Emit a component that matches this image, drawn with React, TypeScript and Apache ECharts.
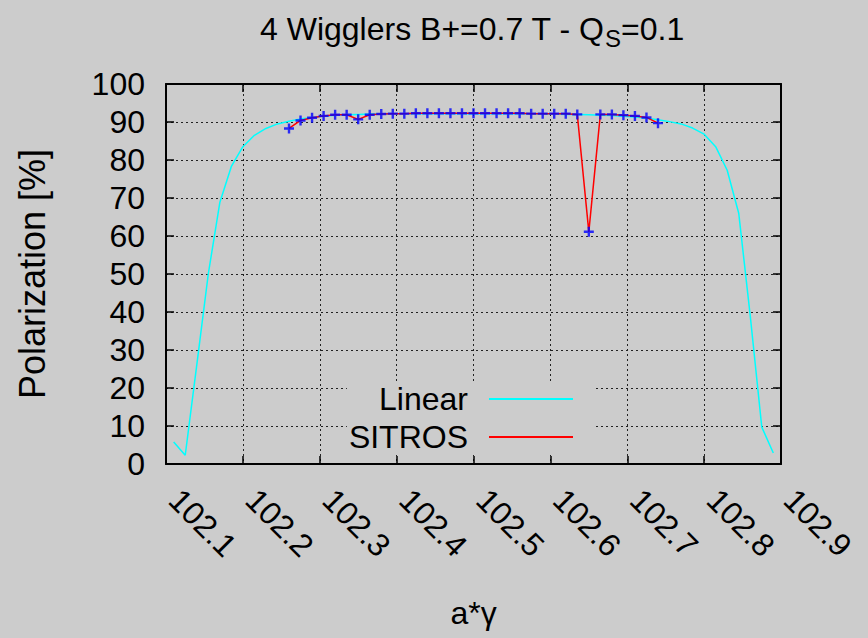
import React, { useEffect, useRef } from "react";
import * as echarts from "echarts";

const FONT = "'Liberation Sans', Arial, Helvetica, sans-serif";
const BG = "#cccccc";

// Linear (analytic) polarization scan
const linearX = [
  102.11, 102.125, 102.14, 102.155, 102.17, 102.185, 102.2, 102.215, 102.23, 102.245,
  102.26, 102.275, 102.29, 102.305, 102.32, 102.335, 102.35, 102.365, 102.38, 102.395,
  102.41, 102.425, 102.44, 102.455, 102.47, 102.485, 102.5, 102.515, 102.53, 102.545,
  102.56, 102.575, 102.59, 102.605, 102.62, 102.635, 102.65, 102.665, 102.68, 102.695,
  102.71, 102.725, 102.74, 102.755, 102.77, 102.785, 102.8, 102.815, 102.83, 102.845,
  102.86, 102.875, 102.89,
];
const linearY = [
  5.8, 2.3, 26.0, 50.0, 68.8, 78.3, 83.5, 86.5, 88.3, 89.5,
  90.2, 90.8, 91.2, 91.5, 91.8, 91.9, 92.0, 92.1, 92.1, 92.2,
  92.2, 92.2, 92.2, 92.2, 92.2, 92.2, 92.2, 92.2, 92.2, 92.2,
  92.2, 92.2, 92.1, 92.1, 92.0, 92.0, 91.9, 91.8, 91.7, 91.5,
  91.3, 91.0, 90.6, 90.1, 89.5, 88.4, 86.8, 83.5, 77.3, 66.0,
  39.0, 9.7, 2.9,
];

// SITROS tracking results
const sitrosX = [
  102.26, 102.275, 102.29, 102.305, 102.32, 102.335, 102.35, 102.365, 102.38, 102.395,
  102.41, 102.425, 102.44, 102.455, 102.47, 102.485, 102.5, 102.515, 102.53, 102.545,
  102.56, 102.575, 102.59, 102.605, 102.62, 102.635, 102.65, 102.665, 102.68, 102.695,
  102.71, 102.725, 102.74,
];
const sitrosY = [
  88.3, 90.4, 91.1, 91.6, 91.9, 91.9, 90.7, 91.9, 92.1, 92.2,
  92.2, 92.3, 92.3, 92.3, 92.3, 92.3, 92.3, 92.3, 92.3, 92.3,
  92.3, 92.2, 92.2, 92.2, 92.2, 92.0, 61.1, 92.0, 92.0, 91.8,
  91.6, 91.2, 89.7,
];

const xMin = 102.1;
const xMax = 102.9;
const xStep = 0.1;
const yMin = 0;
const yMax = 100;
const yStep = 10;

// Title pieces: text before the subscript, the subscript, and the tail
const titleHead = "4 Wigglers B+=0.7 T - Q";
const titleSub = "S";
const titleTail = "=0.1";

const pair = (xs: number[], ys: number[]) => xs.map((x, i) => [x, ys[i]]);

// "+" point marker and a plain line for legend keys
const PLUS = "path://M3.8,0H6.2V10H3.8Z M0,3.8H10V6.2H0Z";
const KEY_LINE = "path://M0,0H84V2H0Z";

function textWidth(text: string, size: number) {
  const ctx = document.createElement("canvas").getContext("2d")!;
  ctx.font = `${size}px ${FONT}`;
  return ctx.measureText(text).width;
}

export default function App() {
  const ref = useRef<HTMLDivElement>(null);

  useEffect(() => {
    document.body.style.margin = "0";
    document.body.style.background = BG;
    const chart = echarts.init(ref.current!, undefined, { renderer: "svg" });

    const gridLine = { show: true, lineStyle: { color: "#222", width: 1, type: [2, 3] as any } };
    const axisLine = { show: true, onZero: false, lineStyle: { color: "#000", width: 2 } };
    const tick = { show: true, inside: true, length: 8, lineStyle: { color: "#000", width: 1.5 } };

    // title laid out piece by piece so the subscript sits below the baseline
    const titleX = 260;
    const titleY = 29;
    const headW = textWidth(titleHead, 32);
    const subW = textWidth(titleSub, 24);
    const titleStyle = { fill: "#000", fontFamily: FONT, verticalAlign: "middle", align: "left" };

    chart.setOption({
      animation: false,
      backgroundColor: BG,
      graphic: [
        {
          type: "text",
          x: titleX,
          y: titleY,
          style: { ...titleStyle, text: titleHead, fontSize: 32 },
        },
        {
          type: "text",
          x: titleX + headW,
          y: titleY + 9,
          style: { ...titleStyle, text: titleSub, fontSize: 24 },
        },
        {
          type: "text",
          x: titleX + headW + subW,
          y: titleY,
          style: { ...titleStyle, text: titleTail, fontSize: 32 },
        },
      ],
      legend: {
        data: [
          { name: "Linear", icon: KEY_LINE },
          { name: "SITROS", icon: KEY_LINE },
        ],
        orient: "vertical",
        align: "right",
        right: 275,
        top: 381,
        itemWidth: 84,
        itemHeight: 2,
        itemGap: 6,
        padding: [2, 20, 2, 2],
        backgroundColor: BG,
        textStyle: {
          fontFamily: FONT,
          fontSize: 32,
          color: "#000",
          lineHeight: 32,
          padding: [0, 16, 0, 0],
        },
      },
      grid: { left: 166, right: 87, top: 84, bottom: 174 },
      xAxis: [
        {
          type: "value",
          min: xMin,
          max: xMax,
          interval: xStep,
          name: "a*γ",
          nameLocation: "middle",
          nameGap: 133,
          nameTextStyle: { fontFamily: FONT, fontSize: 32, color: "#000" },
          axisLine,
          axisTick: tick,
          splitLine: gridLine,
          axisLabel: {
            rotate: -45,
            margin: 22,
            padding: [0, 0, 0, 12],
            fontFamily: FONT,
            fontSize: 32,
            color: "#000",
            formatter: (v: number) => v.toFixed(1),
          },
        },
        {
          type: "value",
          position: "top",
          min: xMin,
          max: xMax,
          interval: xStep,
          axisLine,
          axisTick: tick,
          splitLine: { show: false },
          axisLabel: { show: false },
        },
      ],
      yAxis: [
        {
          type: "value",
          min: yMin,
          max: yMax,
          interval: yStep,
          name: "Polarization [%]",
          nameLocation: "middle",
          nameGap: 116,
          nameTextStyle: { fontFamily: FONT, fontSize: 36, color: "#000" },
          axisLine,
          axisTick: tick,
          splitLine: gridLine,
          axisLabel: { margin: 21, fontFamily: FONT, fontSize: 32, color: "#000" },
        },
        {
          type: "value",
          position: "right",
          min: yMin,
          max: yMax,
          interval: yStep,
          axisLine,
          axisTick: tick,
          splitLine: { show: false },
          axisLabel: { show: false },
        },
      ],
      series: [
        {
          name: "Linear",
          type: "line",
          data: pair(linearX, linearY),
          symbol: "none",
          lineStyle: { color: "#00ffff", width: 1.5 },
          itemStyle: { color: "#00ffff" },
          z: 2,
        },
        {
          name: "SITROS",
          type: "line",
          data: pair(sitrosX, sitrosY),
          symbol: "none",
          lineStyle: { color: "#ff0000", width: 1.5 },
          itemStyle: { color: "#ff0000" },
          z: 3,
        },
        {
          name: "SITROS points",
          type: "scatter",
          data: pair(sitrosX, sitrosY),
          symbol: PLUS,
          symbolSize: 10,
          itemStyle: { color: "#0000ff" },
          z: 4,
        },
      ],
    });

    return () => chart.dispose();
  }, []);

  return <div ref={ref} style={{ width: 868, height: 638 }} />;
}
